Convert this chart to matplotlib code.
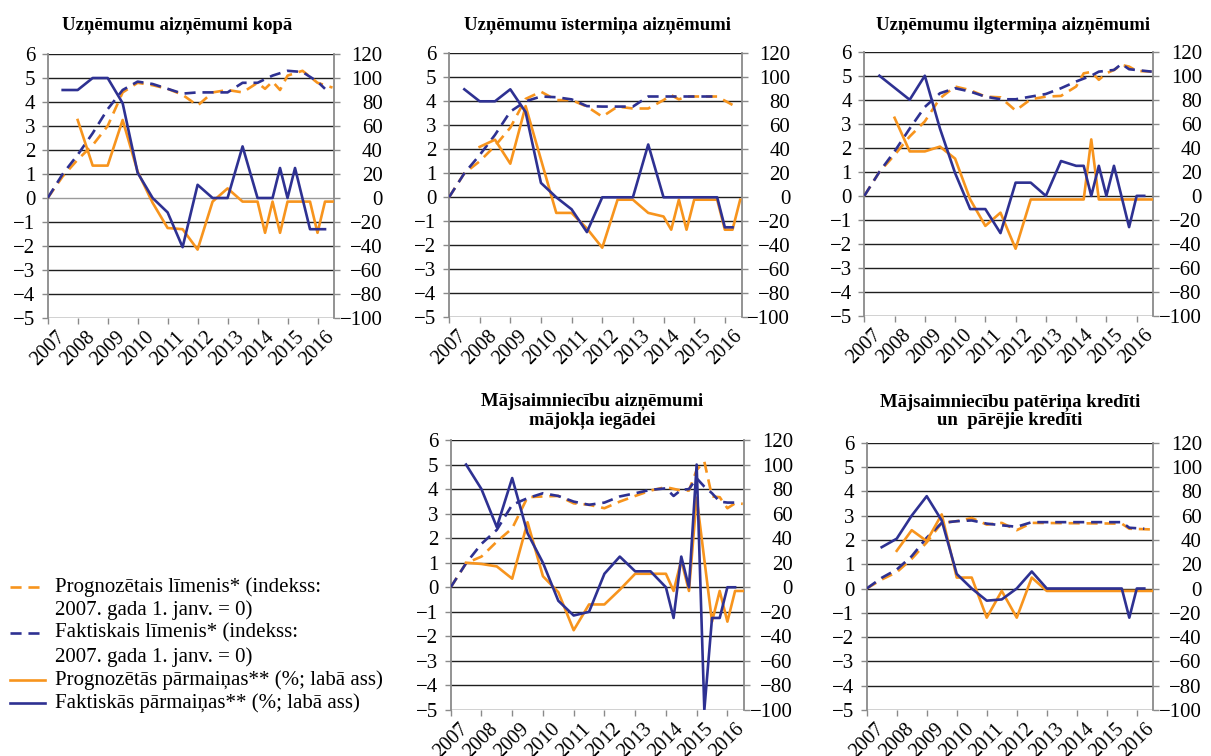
import matplotlib
matplotlib.use("Agg")
import matplotlib.pyplot as plt

plt.rcParams['font.family'] = ['Liberation Serif', 'DejaVu Serif']

ORANGE = '#F7941D'
BLUE = '#2E3192'

years = [2007, 2008, 2009, 2010, 2011, 2012, 2013, 2014, 2015, 2016]
year_labels = [str(y) for y in years]
left_ticks = [-5, -4, -3, -2, -1, 0, 1, 2, 3, 4, 5, 6]
right_ticks = [-100, -80, -60, -40, -20, 0, 20, 40, 60, 80, 100, 120]

titles = [
    "Uzņēmumu aizņēmumi kopā",
    "Uzņēmumu īstermiņa aizņēmumi",
    "Uzņēmumu ilgtermiņa aizņēmumi",
    "Mājsaimniecību aizņēmumi\nmājokļa iegādei",
    "Mājsaimniecību patēriņa kredīti\nun  pārējie kredīti",
]

legend_labels = [
    ["Prognozētais līmenis* (indekss:", "2007. gada 1. janv. = 0)"],
    ["Faktiskais līmenis* (indekss:", "2007. gada 1. janv. = 0)"],
    ["Prognozētās pārmaiņas** (%; labā ass)"],
    ["Faktiskās pārmaiņas** (%; labā ass)"],
]

# ---------- Panel 1: Uzņēmumu aizņēmumi kopā ----------
p1_fc_lvl_x = [2007, 2007.5, 2008, 2008.5, 2009, 2009.5, 2010, 2010.5, 2011, 2011.5, 2012, 2012.5, 2013, 2013.5, 2014, 2014.25, 2014.5, 2014.75, 2015, 2015.5, 2016, 2016.5]
p1_fc_lvl_y = [0, 0.9, 1.6, 2.2, 3.0, 4.4, 4.8, 4.7, 4.55, 4.3, 3.85, 4.4, 4.5, 4.4, 4.8, 4.55, 4.85, 4.5, 5.1, 5.3, 4.8, 4.6]
p1_act_lvl_x = [2007, 2007.5, 2008, 2008.5, 2009, 2009.5, 2010, 2010.5, 2011, 2011.5, 2012, 2012.5, 2013, 2013.5, 2014, 2014.5, 2015, 2015.5, 2016, 2016.25]
p1_act_lvl_y = [0, 1.0, 1.8, 2.7, 3.7, 4.5, 4.85, 4.75, 4.55, 4.35, 4.4, 4.4, 4.4, 4.8, 4.8, 5.1, 5.3, 5.25, 4.85, 4.55]
p1_fc_chg_x = [2008, 2008.5, 2009, 2009.5, 2010, 2010.5, 2011, 2011.5, 2012, 2012.5, 2013, 2013.5, 2014, 2014.25, 2014.5, 2014.75, 2015, 2015.75, 2016, 2016.25, 2016.5]
p1_fc_chg_y = [65, 27, 27, 65, 22, -4, -25, -26, -43, -3, 8, -3, -3, -29, -3, -29, -3, -3, -29, -3, -3]
p1_act_chg_x = [2007.5, 2008, 2008.5, 2009, 2009.5, 2010, 2010.5, 2011, 2011.5, 2012, 2012.5, 2013, 2013.5, 2014, 2014.5, 2014.75, 2015, 2015.25, 2015.75, 2016.25]
p1_act_chg_y = [90, 90, 100, 100, 79, 21, 0, -12, -41, 11, 0, 0, 43, 0, 0, 25, 0, 25, -26, -26]

# ---------- Panel 2: Uzņēmumu īstermiņa aizņēmumi ----------
p2_fc_lvl_x = [2007, 2007.5, 2008, 2008.5, 2009, 2009.5, 2010, 2010.5, 2011, 2011.5, 2012, 2012.5, 2013, 2013.5, 2014, 2014.25, 2014.5, 2014.75, 2015.75, 2016.25]
p2_fc_lvl_y = [0, 1.0, 1.5, 2.14, 2.9, 4.1, 4.4, 4.05, 4.05, 3.78, 3.36, 3.78, 3.7, 3.7, 4.05, 4.26, 4.08, 4.2, 4.2, 3.85]
p2_act_lvl_x = [2007, 2007.5, 2008, 2008.5, 2009, 2009.5, 2010, 2010.5, 2011, 2011.5, 2012, 2013, 2013.5, 2015.75]
p2_act_lvl_y = [0, 1.0, 1.76, 2.6, 3.57, 4.0, 4.2, 4.17, 4.08, 3.8, 3.78, 3.78, 4.2, 4.2]
p2_fc_chg_x = [2008, 2008.5, 2009, 2009.5, 2010.5, 2011, 2011.5, 2012, 2012.5, 2013, 2013.5, 2014, 2014.25, 2014.5, 2014.75, 2015, 2015.75, 2016, 2016.25, 2016.5]
p2_fc_chg_y = [42, 48, 28, 76, -13, -13, -26, -42, -2, -2, -13, -16, -27, -2, -27, -2, -2, -27, -27, -2]
p2_act_chg_x = [2007.5, 2008, 2008.5, 2009, 2009.5, 2010, 2010.5, 2011, 2011.5, 2012, 2013, 2013.5, 2014, 2015.75, 2016, 2016.25]
p2_act_chg_y = [90, 80, 80, 90, 71, 12, 0, -10, -29, 0, 0, 44, 0, 0, -25, -25]

# ---------- Panel 3: Uzņēmumu ilgtermiņa aizņēmumi ----------
p3_fc_lvl_x = [2007, 2007.5, 2008, 2008.5, 2009, 2009.5, 2010, 2010.5, 2011, 2011.5, 2012, 2012.5, 2013, 2013.5, 2014, 2014.25, 2014.5, 2014.75, 2015, 2015.25, 2015.5, 2015.75, 2016, 2016.5]
p3_fc_lvl_y = [0, 1.0, 1.7, 2.47, 3.1, 4.06, 4.55, 4.4, 4.13, 4.1, 3.55, 4.02, 4.13, 4.16, 4.55, 5.1, 5.16, 4.83, 5.1, 5.24, 5.45, 5.38, 5.2, 5.17]
p3_act_lvl_x = [2007, 2007.5, 2008, 2008.5, 2009, 2009.5, 2010, 2010.5, 2011, 2011.5, 2012, 2012.5, 2013, 2013.5, 2014, 2014.5, 2014.75, 2015.25, 2015.5, 2015.75, 2016.5]
p3_act_lvl_y = [0, 1.0, 1.85, 2.8, 3.7, 4.27, 4.48, 4.34, 4.13, 4.02, 4.02, 4.13, 4.24, 4.48, 4.76, 5.0, 5.17, 5.24, 5.49, 5.27, 5.17]
p3_fc_chg_x = [2008, 2008.5, 2009, 2009.5, 2010, 2010.5, 2011, 2011.5, 2012, 2012.5, 2014.25, 2014.5, 2014.75, 2016.5]
p3_fc_chg_y = [65, 37, 37, 41, 31, -3, -25, -14, -44, -3, -3, 47, -3, -3]
p3_act_chg_x = [2007.5, 2008.5, 2009, 2009.5, 2010, 2010.5, 2011, 2011.5, 2012, 2012.5, 2013, 2013.5, 2014, 2014.25, 2014.5, 2014.75, 2015, 2015.25, 2015.75, 2016, 2016.25]
p3_act_chg_y = [100, 80, 100, 56, 19, -11, -11, -31, 11, 11, 0, 29, 25, 25, 0, 25, 0, 25, -26, 0, 0]

# ---------- Panel 4: Mājsaimniecību aizņēmumi mājokļa iegādei ----------
p4_fc_lvl_x = [2007, 2007.5, 2008, 2008.5, 2009, 2009.5, 2010, 2010.5, 2011, 2011.5, 2012, 2012.5, 2013, 2013.5, 2014, 2014.5, 2014.75, 2015, 2015.25, 2015.5, 2015.75, 2016, 2016.25, 2016.5]
p4_fc_lvl_y = [0, 0.98, 1.25, 1.86, 2.4, 3.67, 3.7, 3.72, 3.42, 3.36, 3.22, 3.49, 3.72, 3.94, 4.08, 3.94, 3.94, 4.78, 5.12, 3.7, 3.67, 3.22, 3.42, 3.4]
p4_act_lvl_x = [2007, 2007.5, 2008, 2008.5, 2009, 2009.5, 2010, 2010.5, 2011, 2011.5, 2012, 2012.5, 2013, 2013.5, 2014, 2014.25, 2014.5, 2014.75, 2015, 2015.25, 2015.5, 2015.75, 2016, 2016.25]
p4_act_lvl_y = [0, 0.98, 1.77, 2.34, 3.36, 3.63, 3.83, 3.72, 3.49, 3.36, 3.45, 3.7, 3.83, 3.97, 4.03, 3.72, 3.97, 4.0, 4.44, 4.1, 3.83, 3.49, 3.45, 3.45]
p4_fc_chg_x = [2007.5, 2008, 2008.5, 2009, 2009.5, 2010, 2010.5, 2011, 2011.5, 2012, 2012.5, 2013, 2014, 2014.25, 2014.5, 2014.75, 2015, 2015.5, 2015.75, 2016, 2016.25, 2016.5]
p4_fc_chg_y = [20, 19, 17, 7, 53, 9, -4, -35, -14, -14, -2, 11, 11, -3, 22, -3, 73, -28, -3, -28, -3, -3]
p4_act_chg_x = [2007.5, 2008, 2008.5, 2009, 2009.5, 2010, 2010.5, 2011, 2011.5, 2012, 2012.5, 2013, 2013.5, 2014, 2014.25, 2014.5, 2014.75, 2015, 2015.25, 2015.5, 2015.75, 2016, 2016.25]
p4_act_chg_y = [100, 80, 49, 89, 44, 20, -11, -23, -20, 11, 25, 13, 13, 0, -25, 25, 0, 100, -100, -25, -25, 0, 0]

# ---------- Panel 5: Mājsaimniecību patēriņa kredīti un pārējie kredīti ----------
p5_fc_lvl_x = [2007, 2007.5, 2008, 2008.5, 2009, 2009.5, 2010, 2010.5, 2011, 2011.5, 2012, 2012.5, 2015.5, 2015.75, 2016.5]
p5_fc_lvl_y = [0, 0.37, 0.67, 1.22, 1.9, 2.7, 2.77, 2.9, 2.63, 2.7, 2.4, 2.7, 2.67, 2.46, 2.43]
p5_act_lvl_x = [2007, 2007.5, 2008, 2008.5, 2009, 2009.5, 2010, 2010.5, 2011, 2011.5, 2012, 2012.5, 2015.5, 2015.75, 2016.25]
p5_act_lvl_y = [0, 0.44, 0.78, 1.33, 2.09, 2.7, 2.77, 2.8, 2.67, 2.6, 2.54, 2.73, 2.73, 2.5, 2.46]
p5_fc_chg_x = [2008, 2008.5, 2009, 2009.5, 2010, 2010.5, 2011, 2011.5, 2012, 2012.5, 2013, 2016.5]
p5_fc_chg_y = [31, 48, 39, 61, 9, 9, -24, -2, -24, 9, -2, -2]
p5_act_chg_x = [2007.5, 2008, 2008.5, 2009, 2009.5, 2010, 2010.5, 2011, 2011.5, 2012, 2012.5, 2013, 2015.5, 2015.75, 2016, 2016.25]
p5_act_chg_y = [34, 41, 60, 76, 56, 12, 0, -10, -9, 0, 14, 0, 0, -24, 0, 0]

panels = [
    (p1_fc_lvl_x, p1_fc_lvl_y, p1_act_lvl_x, p1_act_lvl_y, p1_fc_chg_x, p1_fc_chg_y, p1_act_chg_x, p1_act_chg_y),
    (p2_fc_lvl_x, p2_fc_lvl_y, p2_act_lvl_x, p2_act_lvl_y, p2_fc_chg_x, p2_fc_chg_y, p2_act_chg_x, p2_act_chg_y),
    (p3_fc_lvl_x, p3_fc_lvl_y, p3_act_lvl_x, p3_act_lvl_y, p3_fc_chg_x, p3_fc_chg_y, p3_act_chg_x, p3_act_chg_y),
    (p4_fc_lvl_x, p4_fc_lvl_y, p4_act_lvl_x, p4_act_lvl_y, p4_fc_chg_x, p4_fc_chg_y, p4_act_chg_x, p4_act_chg_y),
    (p5_fc_lvl_x, p5_fc_lvl_y, p5_act_lvl_x, p5_act_lvl_y, p5_fc_chg_x, p5_fc_chg_y, p5_act_chg_x, p5_act_chg_y),
]

# ---------- layout (pixels) ----------
W, H = 1211, 756
boxes = [
    (47.7, 54, 334, 318),
    (449, 53.3, 741.7, 317.3),
    (864.3, 51.7, 1153.3, 316),
    (450.7, 440, 744.3, 710),
    (866.7, 442.7, 1153.3, 710),
]
title_pos = [(177, 25), (597, 25), (1013, 25), (592, 411), (1010, 411)]

fig = plt.figure(figsize=(W / 100, H / 100), dpi=100)

LW = 1.9
DASH = (0, (4.2, 2.6))
GRID = '#1e1e1e'
SPINE = '#8a8a8a'
FS = 15

for i, (box, data) in enumerate(zip(boxes, panels)):
    l, t, r, b = box
    ax = fig.add_axes([l / W, 1 - b / H, (r - l) / W, (b - t) / H])
    ax2 = ax.twinx()
    flx, fly, alx, aly, fcx, fcy, acx, acy = data

    ax.plot(flx, fly, color=ORANGE, lw=LW, ls=DASH, zorder=3)
    ax.plot(alx, aly, color=BLUE, lw=LW, ls=DASH, zorder=4)
    ax2.plot(fcx, fcy, color=ORANGE, lw=LW, zorder=3)
    ax2.plot(acx, acy, color=BLUE, lw=LW, zorder=4)

    ax.set_xlim(2007, 2016.55)
    ax.set_ylim(-5, 6)
    ax2.set_ylim(-100, 120)
    ax.set_yticks(left_ticks)
    ax.set_yticklabels([str(v).replace('-', '\u2212') for v in left_ticks])
    ax2.set_yticks(right_ticks)
    ax2.set_yticklabels([str(v).replace('-', '\u2212') for v in right_ticks])
    ax.set_xticks(years)
    ax.set_xticklabels(year_labels)

    ax.yaxis.grid(True, color=GRID, lw=1.0)
    ax.set_axisbelow(True)
    if i == 0:
        ax.yaxis.get_gridlines()[left_ticks.index(0)].set_color('#9a9a9a')

    for a in (ax, ax2):
        a.spines['top'].set_visible(False)
        a.spines['bottom'].set_visible(False)
        a.spines['left'].set_color(SPINE)
        a.spines['right'].set_color(SPINE)
        a.spines['left'].set_linewidth(1.3)
        a.spines['right'].set_linewidth(1.3)
    ax.spines['right'].set_visible(False)
    ax2.spines['left'].set_visible(False)

    ax.tick_params(axis='y', direction='out', length=4.5, width=1.0, color=SPINE,
                   labelsize=FS, pad=4.5)
    ax.tick_params(axis='x', direction='out', length=4, width=1.0, color=SPINE,
                   labelsize=FS - 0.5, labelrotation=45, pad=3)
    ax2.tick_params(axis='y', direction='out', length=4, width=1.0, color=SPINE,
                    labelsize=FS, pad=31)
    for lbl in ax2.get_yticklabels():
        lbl.set_horizontalalignment('right')

    tx, ty = title_pos[i]
    fig.text(tx / W, 1 - ty / H, titles[i], ha='center', va='center',
             fontsize=13.5, fontweight='bold', linespacing=1.1)

# ---------- legend ----------
leg_styles = [(ORANGE, DASH), (BLUE, DASH), (ORANGE, '-'), (BLUE, '-')]
leg_rows = [[587, 610], [633, 657], [680], [703]]
for (col, ls), rows, lines in zip(leg_styles, leg_rows, legend_labels):
    y0 = 1 - rows[0] / H
    fig.add_artist(plt.Line2D([10 / W, 45 / W], [y0, y0], color=col, lw=LW, ls=ls,
                              transform=fig.transFigure))
    for row, txt in zip(rows, lines):
        fig.text(55 / W, 1 - row / H, txt, ha='left', va='center', fontsize=FS)

fig.savefig('out.png', dpi=100)
